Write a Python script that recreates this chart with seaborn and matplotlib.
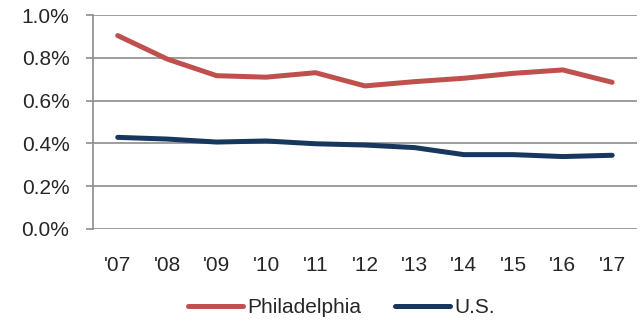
import pandas as pd
import matplotlib.pyplot as plt
import seaborn as sns
from matplotlib.ticker import FuncFormatter

years = ["'07", "'08", "'09", "'10", "'11", "'12", "'13", "'14", "'15", "'16", "'17"]
philadelphia = [0.905, 0.795, 0.717, 0.710, 0.731, 0.669, 0.689, 0.705, 0.728, 0.744, 0.686]
us = [0.428, 0.420, 0.406, 0.411, 0.398, 0.392, 0.380, 0.347, 0.347, 0.338, 0.344]

data = pd.DataFrame({
    'Year': list(range(len(years))) * 2,
    'Rate': philadelphia + us,
    'Series': ['Philadelphia'] * len(years) + ['U.S.'] * len(years),
})

sns.set_style('white')
plt.rcParams['font.family'] = ['Liberation Sans', 'DejaVu Sans']

fig = plt.figure(figsize=(6.44, 3.22), dpi=100)
ax = fig.add_axes([0.1444, 0.2898, 0.8446, 0.6627])

sns.lineplot(
    data=data, x='Year', y='Rate', hue='Series',
    palette={'Philadelphia': '#C0504D', 'U.S.': '#17375E'},
    linewidth=3.6, solid_capstyle='round', ax=ax, legend=False,
)

ax.set_xlim(-0.5, len(years) - 0.5)
ax.set_ylim(0, 1.0)
ax.set_yticks([0, 0.2, 0.4, 0.6, 0.8, 1.0])
ax.yaxis.set_major_formatter(FuncFormatter(lambda v, _: f'{v:.1f}%'))
ax.set_xticks(range(len(years)))
ax.set_xticklabels(years)
ax.set_xlabel('')
ax.set_ylabel('')
ax.grid(axis='y', color='#8C8C8C', linewidth=1.2)
ax.set_axisbelow(True)
for side in ['top', 'right', 'bottom']:
    ax.spines[side].set_visible(False)
ax.spines['left'].set_color('#8C8C8C')
ax.spines['left'].set_linewidth(1.2)
ax.tick_params(axis='y', length=5, color='#8C8C8C', width=1.2, labelsize=15, pad=12, left=True)
ax.tick_params(axis='x', length=0, labelsize=15, pad=20)

handles = [plt.Line2D([], [], color='#C0504D', lw=3.6, solid_capstyle='round'),
           plt.Line2D([], [], color='#17375E', lw=3.6, solid_capstyle='round')]
fig.legend(handles, ['Philadelphia', 'U.S.'], loc='center', ncol=2,
           bbox_to_anchor=(0.53, 0.045), frameon=False, fontsize=15,
           handlelength=2.65, handletextpad=0.2, columnspacing=1.6,
           borderpad=0, borderaxespad=0)

fig.savefig('out.png', dpi=100)
